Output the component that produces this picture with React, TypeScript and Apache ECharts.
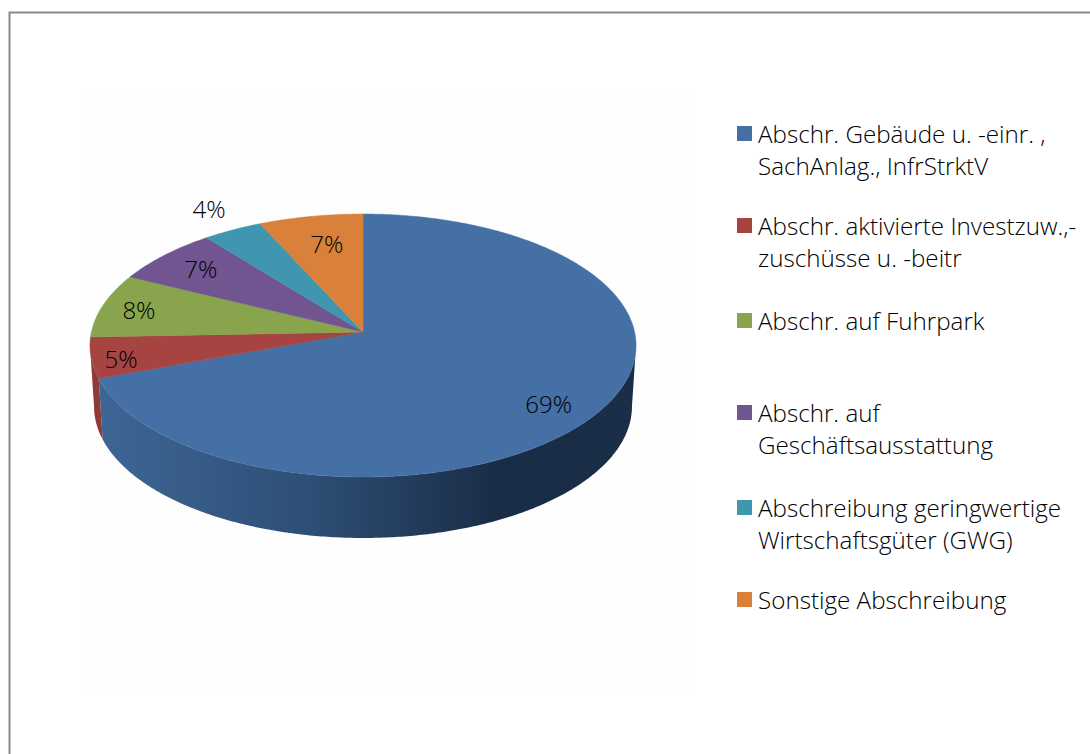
import React, { useEffect, useRef } from "react";
import * as echarts from "echarts";

const categories = [
  "Abschr. Gebäude u. -einr. ,\nSachAnlag., InfrStrktV",
  "Abschr. aktivierte Investzuw.,-\nzuschüsse u. -beitr",
  "Abschr. auf Fuhrpark",
  "Abschr. auf\nGeschäftsausstattung",
  "Abschreibung geringwertige\nWirtschaftsgüter (GWG)",
  "Sonstige Abschreibung",
];
const values = [69.4, 5.0, 7.9, 7.0, 3.9, 6.8];
const colors = ["#4570A6", "#A64442", "#88A44C", "#705590", "#4095AF", "#D9803A"];
const sideColors = ["#3A5F8C", "#8E3A38", "#748C41", "#5F487A", "#367F95", "#B96D31"];
const labelNudges = [[11, 13], [-39, 7], [-28, -2], [-11, -5], [-54, -45], [4, 0]];
const legendTops = [133, 225, 320, 412, 507, 599];

const FONT = "'Open Sans', sans-serif";
const total = values.reduce((a, b) => a + b, 0);
const APEX_X = 363, APEX_Y = 332, A = 271.6, K = 130.1, P = 0.1027;
const DEPTH = 61, BOTTOM_SCALE = 0.985;
const VISIBLE_FROM = Math.PI - Math.acos(P);
const VISIBLE_TO = Math.PI + Math.acos(P);

function project(theta: number, r = 1, depth = 0) {
  const s = Math.sin(theta), u = Math.cos(theta);
  const d = 1 + P * r * u;
  const scale = depth ? BOTTOM_SCALE : 1;
  return [APEX_X + (scale * r * A * s) / d, APEX_Y + depth - (r * K * u) / d];
}
function arc(from: number, to: number, depth = 0) {
  const n = Math.max(2, Math.ceil(Math.abs(to - from) / 0.01));
  const pts: number[][] = [];
  for (let i = 0; i <= n; i++) pts.push(project(from + ((to - from) * i) / n, 1, depth));
  return pts;
}

function renderSlice(params: any, api: any) {
  const i = params.dataIndex;
  const before = values.slice(0, i).reduce((a, b) => a + b, 0);
  const v = api.value(0) as number;
  const t0 = (before / total) * Math.PI * 2;
  const t1 = ((before + v) / total) * Math.PI * 2;
  const children: any[] = [];
  const a0 = Math.max(t0, VISIBLE_FROM), a1 = Math.min(t1, VISIBLE_TO);
  if (a1 > a0) {
    const top = arc(a0, a1);
    const bottom = arc(a0, a1, DEPTH).reverse();
    children.push({
      type: "polygon",
      shape: { points: top.concat(bottom) },
      style: {
        fill:
          i === 0
            ? new echarts.graphic.LinearGradient(0, 0, 1, 0, [
                { offset: 0, color: "#3E6695" },
                { offset: 0.4, color: "#2D4E75" },
                { offset: 0.75, color: "#192C45" },
                { offset: 1, color: "#1A2E48" },
              ])
            : sideColors[i],
      },
    });
  }
  const pts = [[APEX_X, APEX_Y]].concat(arc(t0, t1));
  children.push({
    type: "polygon",
    shape: { points: pts },
    style: { fill: colors[i], stroke: colors[i], lineWidth: 0.5 },
  });
  const mid = (t0 + t1) / 2;
  const p = project(mid, 0.75);
  children.push({
    type: "text",
    z2: 10,
    x: p[0] + labelNudges[i][0],
    y: p[1] + labelNudges[i][1],
    style: {
      text: Math.round((v / total) * 100) + "%",
      font: `300 24px ${FONT}`,
      fill: "#000",
      align: "center",
      verticalAlign: "middle",
    },
  });
  return { type: "group", children };
}

export default function App() {
  const ref = useRef<HTMLDivElement>(null);
  useEffect(() => {
    document.body.style.margin = "0";
    document.body.style.overflow = "hidden";
    const chart = echarts.init(ref.current!, undefined, { renderer: "svg" });
    const legend: any[] = [];
    categories.forEach((name, i) => {
      legend.push({
        type: "rect",
        shape: { x: 737, y: legendTops[i] - 7, width: 15, height: 15 },
        style: { fill: colors[i] },
      });
      legend.push({
        type: "text",
        x: 758,
        y: legendTops[i] - 16,
        style: {
          text: name,
          font: `300 24.2px ${FONT}`,
          lineHeight: 32,
          fill: "#000",
          align: "left",
          verticalAlign: "top",
        },
      });
    });
    chart.setOption({
      animation: false,
      backgroundColor: "#fff",
      graphic: [
        {
          type: "rect",
          silent: true,
          z: -2,
          shape: { x: 80, y: 88, width: 610, height: 602 },
          style: { fill: "#FEFEFE" },
        },
        {
          type: "polyline",
          silent: true,
          shape: { points: [[9.5, 754], [9.5, 12.5], [1090, 12.5]] },
          style: { stroke: "#8A8A8A", lineWidth: 2, fill: "none" },
        },
        ...legend,
      ],
      series: [
        {
          type: "custom",
          coordinateSystem: "none",
          name: "Abschreibung",
          data: values,
          renderItem: renderSlice,
          silent: true,
          z: 2,
        },
      ],
    });
    return () => chart.dispose();
  }, []);
  return <div ref={ref} style={{ width: 1090, height: 754 }} />;
}
